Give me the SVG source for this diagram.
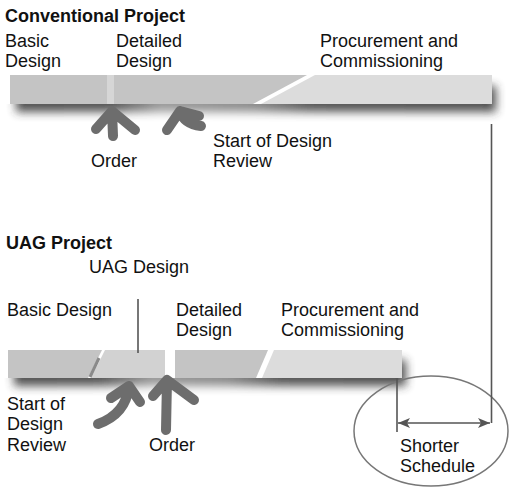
<svg xmlns="http://www.w3.org/2000/svg" width="509" height="489" viewBox="0 0 509 489">
<defs>
<style>
text{font-family:"Liberation Sans",Arial,sans-serif;font-size:18px;fill:#111}
.t{font-weight:bold}
.dk{fill:#c4c4c4}
.lt{fill:#dcdcdc}
.md{fill:#d2d2d2}
.sh{filter:url(#bl)}
.ar{fill:none;stroke:#6d6d6d;stroke-width:10;stroke-linecap:round;stroke-linejoin:round}
.ln{fill:none;stroke:#555;stroke-width:1.6}
</style>
<linearGradient id="g1" x1="0" y1="0" x2="1" y2="0">
<stop offset="0" stop-color="#333"/><stop offset="0.2" stop-color="#3a3a3a"/><stop offset="0.3" stop-color="#8a8a8a"/><stop offset="0.5" stop-color="#777"/><stop offset="0.62" stop-color="#3a3a3a"/><stop offset="1" stop-color="#333"/>
</linearGradient>
<linearGradient id="g2" x1="0" y1="0" x2="1" y2="0">
<stop offset="0" stop-color="#333"/><stop offset="0.22" stop-color="#3a3a3a"/><stop offset="0.35" stop-color="#888"/><stop offset="0.55" stop-color="#777"/><stop offset="0.68" stop-color="#3a3a3a"/><stop offset="1" stop-color="#333"/>
</linearGradient>
<filter id="bl" x="-10%" y="-100%" width="120%" height="300%">
<feGaussianBlur stdDeviation="5"/>
</filter>
<clipPath id="c1"><rect x="0" y="104" width="509" height="40"/><rect x="492" y="60" width="17" height="60"/></clipPath>
<clipPath id="c2"><rect x="0" y="378" width="509" height="40"/><rect x="402" y="330" width="40" height="60"/></clipPath>
<marker id="ah" viewBox="0 0 12 10" refX="12" refY="5" markerWidth="12" markerHeight="10" markerUnits="userSpaceOnUse" orient="auto-start-reverse">
<path d="M0,0 L12,5 L0,10 L3,5 Z" fill="#555"/>
</marker>
</defs>

<g id="shadows">
<g clip-path="url(#c1)"><rect class="sh" fill="url(#g1)" x="16" y="86" width="480" height="26" opacity="0.85"/></g>
<g clip-path="url(#c2)"><rect class="sh" fill="url(#g2)" x="14" y="360" width="392" height="26" opacity="0.85"/></g>
</g>

<g id="title-conventional"><text class="t" x="5" y="22">Conventional Project</text></g>
<g id="conv-basic">
<rect class="dk" x="10" y="75" width="97" height="29"/>
<text x="5" y="47">Basic</text><text x="5" y="67">Design</text>
</g>
<g id="conv-gap"><rect x="107" y="75" width="7" height="29" fill="#d6d6d6"/></g>
<g id="conv-detailed">
<polygon class="dk" points="114,75 307,75 253,104 114,104"/>
<text x="116" y="47">Detailed</text><text x="116" y="67">Design</text>
</g>
<g id="conv-procurement">
<polygon class="lt" points="315,75 492,75 492,104 261,104"/>
<text x="320" y="47">Procurement and</text><text x="320" y="67">Commissioning</text>
</g>
<g id="conv-order"><text x="91" y="167">Order</text></g>
<g id="conv-review"><text x="213" y="147">Start of Design</text><text x="213" y="167">Review</text></g>

<g id="title-uag"><text class="t" x="6" y="249">UAG Project</text></g>
<g id="uag-basic">
<polygon class="dk" points="8,350 102,350 88,378 8,378"/>
<text x="7" y="316">Basic Design</text>
</g>
<g id="uag-design">
<polygon class="md" points="105,350 165,350 165,378 91,378"/>
<line x1="99" y1="358" x2="90" y2="377" stroke="#8a8a8a" stroke-width="3"/>
<text x="89" y="273">UAG Design</text>
</g>
<g id="uag-detailed">
<polygon class="dk" points="175,350 268,350 256,378 175,378"/>
<text x="176" y="316">Detailed</text><text x="176" y="336">Design</text>
</g>
<g id="uag-procurement">
<polygon class="lt" points="274,350 402,350 402,378 262,378"/>
<text x="281" y="316">Procurement and</text><text x="281" y="336">Commissioning</text>
</g>
<g id="uag-review"><text x="7" y="410">Start of</text><text x="7" y="430">Design</text><text x="7" y="451">Review</text></g>
<g id="uag-order"><text x="149" y="451">Order</text></g>
<g id="shorter">
<ellipse cx="431" cy="431" rx="77" ry="55" fill="none" stroke="#777" stroke-width="1.5"/>
<text x="400" y="452">Shorter</text><text x="400" y="472">Schedule</text>
</g>

<g id="connectors">
<line class="ln" x1="138" y1="299" x2="138" y2="353"/>
<line class="ln" x1="491.5" y1="124" x2="491.5" y2="423"/>
<line class="ln" x1="397" y1="378" x2="397" y2="432"/>
<line class="ln" x1="398" y1="423" x2="490" y2="423" marker-start="url(#ah)" marker-end="url(#ah)"/>
<path class="ar" d="M96,129 L112,111 L135,130 M112,111 L113,136"/>
<path class="ar" d="M167,130 L180,111 L199,116 M180,111 Q184,124 201,126"/>
<path class="ar" d="M111,398 L129,386 L140,402 M129,386 Q126,414 98,424"/>
<path class="ar" d="M153,396 L167,380 L194,400 M167,380 L166,430"/>
</g>
</svg>
